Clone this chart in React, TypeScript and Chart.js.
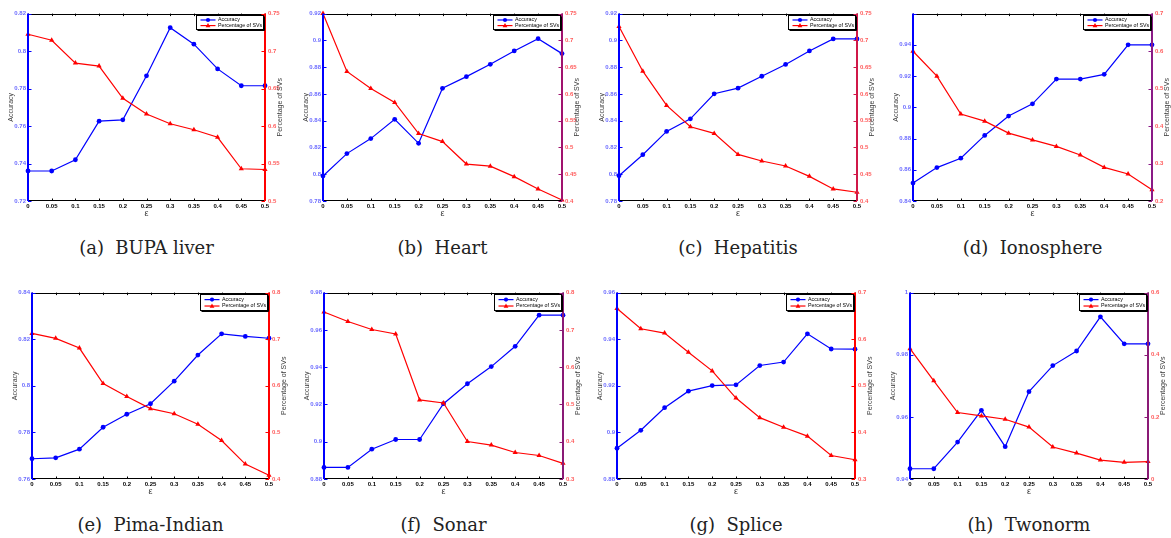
import React, { useEffect, useRef } from 'react';
import { Chart, registerables } from 'chart.js';

Chart.register(...registerables);

// ---------- data ----------
const epsLabels = ['0', '0.05', '0.1', '0.15', '0.2', '0.25', '0.3', '0.35', '0.4', '0.45', '0.5'];

const captions = [
  '(a)  BUPA liver',
  '(b)  Heart',
  '(c)  Hepatitis',
  '(d)  Ionosphere',
  '(e)  Pima-Indian',
  '(f)  Sonar',
  '(g)  Splice',
  '(h)  Twonorm',
];

const accBUPA = [0.736, 0.736, 0.742, 0.7626, 0.7633, 0.7868, 0.8125, 0.8037, 0.7905, 0.7815, 0.7815];
const svBUPA = [0.7225, 0.7145, 0.684, 0.68, 0.637, 0.616, 0.603, 0.595, 0.585, 0.543, 0.542];

const accHeart = [0.7987, 0.8154, 0.8266, 0.841, 0.8231, 0.8642, 0.8729, 0.8821, 0.8921, 0.9013, 0.8901];
const svHeart = [0.75, 0.642, 0.61, 0.584, 0.526, 0.511, 0.469, 0.465, 0.4455, 0.4225, 0.402];

const accHepatitis = [0.7989, 0.8146, 0.832, 0.8414, 0.8601, 0.8643, 0.8732, 0.882, 0.8921, 0.9011, 0.9011];
const svHepatitis = [0.726, 0.6425, 0.5785, 0.5387, 0.5263, 0.487, 0.4747, 0.4654, 0.446, 0.4225, 0.4163];

const accIonosphere = [0.8515, 0.8614, 0.8674, 0.882, 0.8944, 0.9022, 0.9181, 0.9181, 0.9211, 0.94, 0.94];
const svIonosphere = [0.5996, 0.533, 0.432, 0.413, 0.381, 0.363, 0.3456, 0.3226, 0.2897, 0.272, 0.2302];

const accPima = [0.7687, 0.7691, 0.7728, 0.7822, 0.7878, 0.7923, 0.802, 0.8132, 0.8223, 0.8212, 0.8204];
const svPima = [0.7125, 0.7018, 0.681, 0.605, 0.577, 0.551, 0.54, 0.5174, 0.4826, 0.432, 0.408];

const accSonar = [0.8862, 0.8862, 0.896, 0.9012, 0.9012, 0.9204, 0.9311, 0.9403, 0.9512, 0.9679, 0.9679];
const svSonar = [0.748, 0.7226, 0.701, 0.689, 0.512, 0.504, 0.4005, 0.391, 0.371, 0.363, 0.342];

const accSplice = [0.8932, 0.9009, 0.9106, 0.9177, 0.9201, 0.9204, 0.9287, 0.9302, 0.9423, 0.9358, 0.9357];
const svSplice = [0.6658, 0.6224, 0.6132, 0.572, 0.532, 0.4737, 0.4317, 0.411, 0.392, 0.3505, 0.3413];

const accTwonorm = [0.9433, 0.9433, 0.9519, 0.9621, 0.9504, 0.9681, 0.9765, 0.9812, 0.9922, 0.9835, 0.9835];
const svTwonorm = [0.4196, 0.316, 0.214, 0.203, 0.1923, 0.167, 0.103, 0.0835, 0.061, 0.0536, 0.056];

const accSeries = [accBUPA, accHeart, accHepatitis, accIonosphere, accPima, accSonar, accSplice, accTwonorm];
const svSeries = [svBUPA, svHeart, svHepatitis, svIonosphere, svPima, svSonar, svSplice, svTwonorm];

// axis ranges / tick steps
const accMin = [0.72, 0.78, 0.78, 0.84, 0.76, 0.88, 0.88, 0.94];
const accMax = [0.82, 0.92, 0.92, 0.96, 0.84, 0.98, 0.96, 1];
const accStep = [0.02, 0.02, 0.02, 0.02, 0.02, 0.02, 0.02, 0.02];
const accLabelCap: (number | null)[] = [null, null, null, 0.94, null, null, null, null];
const svMin = [0.5, 0.4, 0.4, 0.2, 0.4, 0.3, 0.3, 0];
const svMax = [0.75, 0.75, 0.75, 0.7, 0.8, 0.8, 0.7, 0.6];
const svStep = [0.05, 0.05, 0.05, 0.1, 0.1, 0.1, 0.1, 0.2];

// ---------- layout / style ----------
const plotBoxes = [
  { l: 28, r: 265, t: 13, b: 201 },
  { l: 323, r: 562, t: 13, b: 201 },
  { l: 619, r: 857, t: 13, b: 201 },
  { l: 913, r: 1152, t: 13, b: 201 },
  { l: 32, r: 269, t: 292, b: 479 },
  { l: 324, r: 563, t: 292, b: 479 },
  { l: 617, r: 855, t: 292, b: 479 },
  { l: 910, r: 1148, t: 292, b: 479 },
];
const rightAxisColor = ['#ff0000', '#a0126e', '#d01848', '#8a1a86', '#ff0000', '#8a1a76', '#ff0000', '#8a1a76'];
const captionTop = [239, 239, 239, 239, 516, 516, 516, 516];

const PAD_L = 24;
const PAD_R = 19;
const PAD_T = 6;
const PAD_B = 20;
const SANS = '"Liberation Sans", Arial, sans-serif';

const fmt = (v: number, cap: number | null) => {
  const r = Math.round(v * 10000) / 10000;
  if (cap != null && r > cap + 1e-9) return '';
  return String(r);
};

function drawTriangle(ctx: CanvasRenderingContext2D, x: number, y: number, r: number) {
  ctx.beginPath();
  ctx.moveTo(x, y - r);
  ctx.lineTo(x + r * 0.95, y + r * 0.65);
  ctx.lineTo(x - r * 0.95, y + r * 0.65);
  ctx.closePath();
  ctx.fill();
}

function makeDecor(i: number) {
  return {
    id: 'decor' + i,
    afterDraw(chart: any) {
      const { ctx, chartArea } = chart;
      const { left, right, top, bottom } = chartArea;
      const sx = chart.scales.x;
      const sy = chart.scales.y;
      const sy1 = chart.scales.y1;
      const tl = 2.5;
      ctx.save();
      // top & bottom box lines
      ctx.strokeStyle = '#000';
      ctx.lineWidth = 1;
      ctx.beginPath();
      ctx.moveTo(left, Math.round(top) + 0.5);
      ctx.lineTo(right, Math.round(top) + 0.5);
      ctx.moveTo(left, Math.round(bottom) - 0.5);
      ctx.lineTo(right, Math.round(bottom) - 0.5);
      ctx.stroke();
      // inward x ticks, top and bottom
      ctx.beginPath();
      sx.ticks.forEach((_: any, k: number) => {
        const x = Math.round(sx.getPixelForTick(k)) + 0.5;
        ctx.moveTo(x, bottom);
        ctx.lineTo(x, bottom - tl);
        ctx.moveTo(x, top);
        ctx.lineTo(x, top + tl);
      });
      ctx.stroke();
      // left ticks
      ctx.strokeStyle = '#0000ff';
      ctx.beginPath();
      sy.ticks.forEach((t: any) => {
        const y = Math.round(sy.getPixelForValue(t.value)) + 0.5;
        ctx.moveTo(left, y);
        ctx.lineTo(left + tl + 1, y);
      });
      ctx.stroke();
      // right ticks
      ctx.strokeStyle = rightAxisColor[i];
      ctx.beginPath();
      sy1.ticks.forEach((t: any) => {
        const y = Math.round(sy1.getPixelForValue(t.value)) + 0.5;
        ctx.moveTo(right, y);
        ctx.lineTo(right - tl - 1, y);
      });
      ctx.stroke();
      // left axis line
      ctx.strokeStyle = '#0000ff';
      ctx.lineWidth = 2;
      ctx.beginPath();
      ctx.moveTo(left, top);
      ctx.lineTo(left, bottom);
      ctx.stroke();
      // right axis line
      ctx.strokeStyle = rightAxisColor[i];
      ctx.beginPath();
      ctx.moveTo(right, top);
      ctx.lineTo(right, bottom);
      ctx.stroke();

      // axis titles
      const cy = (top + bottom) / 2;
      ctx.fillStyle = '#3a3a3a';
      ctx.textAlign = 'center';
      ctx.textBaseline = 'middle';
      ctx.font = `7px ${SANS}`;
      ctx.save();
      ctx.translate(left - 17, cy);
      ctx.rotate(-Math.PI / 2);
      ctx.fillText('Accuracy', 0, 0);
      ctx.restore();
      ctx.save();
      ctx.translate(right + 15, cy);
      ctx.rotate(-Math.PI / 2);
      ctx.fillText('Percentage of SVs', 0, 0);
      ctx.restore();
      ctx.font = `9px ${SANS}`;
      ctx.fillText('\u03b5', (left + right) / 2, bottom + 13);

      // legend box
      const w = 67;
      const h = i < 4 ? 14 : 16;
      const x0 = Math.round(right - 2 - w) + 0.5;
      const y0 = Math.round(top + 1.5) + 0.5;
      ctx.fillStyle = '#fff';
      ctx.fillRect(x0, y0, w, h);
      ctx.strokeStyle = '#000';
      ctx.lineWidth = 1;
      ctx.strokeRect(x0, y0, w, h);
      ctx.beginPath();
      ctx.moveTo(x0 + 1, y0 + h + 1);
      ctx.lineTo(x0 + w + 1, y0 + h + 1);
      ctx.lineTo(x0 + w + 1, y0 + 1);
      ctx.stroke();
      const r1 = y0 + h * 0.32;
      const r2 = y0 + h * 0.72;
      ctx.lineWidth = 1.2;
      ctx.strokeStyle = '#0000ff';
      ctx.beginPath();
      ctx.moveTo(x0 + 4, r1);
      ctx.lineTo(x0 + 19, r1);
      ctx.stroke();
      ctx.fillStyle = '#0000ff';
      ctx.beginPath();
      ctx.arc(x0 + 11.5, r1, 2.1, 0, Math.PI * 2);
      ctx.fill();
      ctx.strokeStyle = '#ff0000';
      ctx.beginPath();
      ctx.moveTo(x0 + 4, r2);
      ctx.lineTo(x0 + 19, r2);
      ctx.stroke();
      ctx.fillStyle = '#ff0000';
      drawTriangle(ctx, x0 + 11.5, r2, 2.5);
      ctx.fillStyle = '#000';
      ctx.textAlign = 'left';
      ctx.font = `5.3px ${SANS}`;
      ctx.fillText('Accuracy', x0 + 21.5, r1);
      ctx.fillText('Percentage of SVs', x0 + 21.5, r2);
      ctx.restore();
    },
  };
}

function Panel({ i }: { i: number }) {
  const ref = useRef<HTMLCanvasElement | null>(null);
  const box = plotBoxes[i];
  const width = box.r - box.l + PAD_L + PAD_R;
  const height = box.b - box.t + PAD_T + PAD_B;

  useEffect(() => {
    if (!ref.current) return;
    const tickFont = { size: 6, weight: 'bold' as const, family: SANS };
    const chart = new Chart(ref.current, {
      type: 'line',
      data: {
        labels: epsLabels,
        datasets: [
          {
            label: 'Accuracy',
            data: accSeries[i],
            yAxisID: 'y',
            borderColor: '#0000ff',
            backgroundColor: '#0000ff',
            borderWidth: 1.2,
            pointStyle: 'circle',
            pointRadius: 2.4,
            pointBorderWidth: 0,
            tension: 0,
            clip: false as any,
            order: 1,
          },
          {
            label: 'Percentage of SVs',
            data: svSeries[i],
            yAxisID: 'y1',
            borderColor: '#ff0000',
            backgroundColor: '#ff0000',
            borderWidth: 1.2,
            pointStyle: 'triangle',
            pointRadius: 3,
            pointBorderWidth: 0,
            tension: 0,
            clip: false as any,
            order: 0,
          },
        ],
      },
      options: {
        responsive: false,
        animation: false,
        devicePixelRatio: 1,
        events: [],
        layout: { padding: { top: PAD_T, left: 0, right: 0, bottom: 0 } },
        plugins: { legend: { display: false }, tooltip: { enabled: false } },
        scales: {
          x: {
            type: 'category',
            offset: false,
            grid: { display: false, drawTicks: false },
            border: { display: false },
            ticks: {
              autoSkip: false,
              maxRotation: 0,
              minRotation: 0,
              padding: 1.5,
              color: '#000',
              font: tickFont,
              callback: (_v: any, k: number) => epsLabels[k],
            },
            afterFit: (s: any) => {
              s.height = PAD_B;
            },
          },
          y: {
            type: 'linear',
            position: 'left',
            min: accMin[i],
            max: accMax[i],
            grid: { display: false, drawTicks: false },
            border: { display: false },
            ticks: {
              stepSize: accStep[i],
              padding: 2,
              color: '#6b6bff',
              font: tickFont,
              callback: (v: any) => fmt(Number(v), accLabelCap[i]),
            },
            afterFit: (s: any) => {
              s.width = PAD_L;
            },
          },
          y1: {
            type: 'linear',
            position: 'right',
            min: svMin[i],
            max: svMax[i],
            grid: { display: false, drawTicks: false },
            border: { display: false },
            ticks: {
              stepSize: svStep[i],
              padding: 3,
              color: '#ff5a5a',
              font: tickFont,
              callback: (v: any) => fmt(Number(v), null),
            },
            afterFit: (s: any) => {
              s.width = PAD_R;
            },
          },
        },
      } as any,
      plugins: [makeDecor(i)],
    });
    return () => chart.destroy();
  }, [i]);

  return (
    <canvas
      ref={ref}
      width={width}
      height={height}
      style={{
        position: 'absolute',
        left: box.l - PAD_L,
        top: box.t - PAD_T,
        width,
        height,
      }}
    />
  );
}

export default function App() {
  return (
    <div style={{ position: 'absolute', left: 0, top: 0, width: 1171, height: 538, background: '#fff', overflow: 'hidden' }}>
      {plotBoxes.map((_, i) => (
        <Panel key={i} i={i} />
      ))}
      {captions.map((c, i) => {
        const b = plotBoxes[i];
        const cx = (b.l + b.r) / 2;
        return (
          <div
            key={'cap' + i}
            style={{
              position: 'absolute',
              left: cx - 120,
              width: 240,
              top: captionTop[i],
              textAlign: 'center',
              fontFamily: '"DejaVu Serif", serif',
              fontSize: 18,
              lineHeight: '18px',
              color: '#222',
              whiteSpace: 'pre',
            }}
          >
            {c}
          </div>
        );
      })}
    </div>
  );
}
